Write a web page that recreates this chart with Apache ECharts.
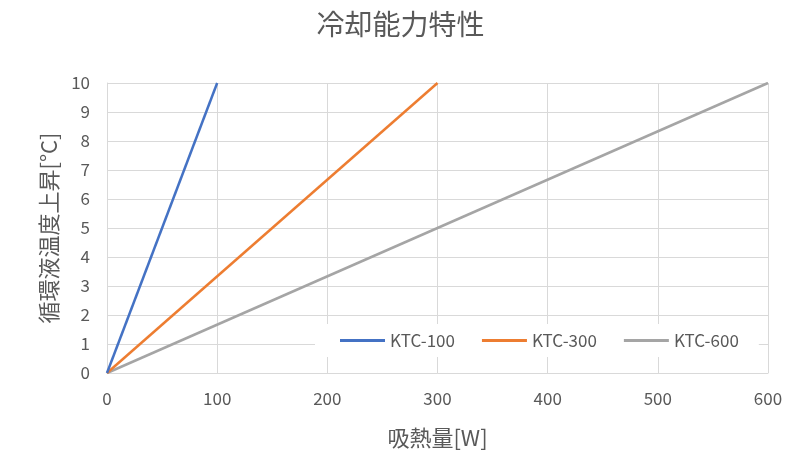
<!DOCTYPE html>
<html>
<head>
<meta charset="utf-8">
<script src="https://cdn.jsdelivr.net/npm/echarts@6/dist/echarts.min.js"></script>
<style>
  html, body { margin: 0; padding: 0; background: #fff; }
  #chart { width: 801px; height: 454px; }
</style>
</head>
<body>
<div id="chart"></div>
<script>
// Model names and their cooling characteristic (heat load W -> fluid temperature rise °C)
const models = ['KTC-100', 'KTC-300', 'KTC-600'];
const heatLoad100 = [0, 100];
const tempRise100 = [0, 10];
const heatLoad300 = [0, 300];
const tempRise300 = [0, 10];
const heatLoad600 = [0, 600];
const tempRise600 = [0, 10];
const colors = ['#4472C4', '#ED7D31', '#A5A5A5'];

const pairs = (xs, ys) => xs.map((x, i) => [x, ys[i]]);
const seriesData = [
  pairs(heatLoad100, tempRise100),
  pairs(heatLoad300, tempRise300),
  pairs(heatLoad600, tempRise600)
];

const font = '"Noto Sans CJK JP", "Noto Sans", sans-serif';
const gridColor = '#d9d9d9';
const textColor = '#595959';

const chart = echarts.init(document.getElementById('chart'));
chart.setOption({
  animation: false,
  title: {
    text: '冷却能力特性',
    left: 'center',
    top: 5,
    textStyle: { color: textColor, fontSize: 28, fontWeight: 'normal', fontFamily: font }
  },
  grid: { left: 107, right: 33, top: 83, bottom: 81, outerBoundsMode: 'none', containLabel: false },
  legend: {
    data: models,
    left: 315,
    top: 324,
    backgroundColor: '#ffffff',
    padding: [8, 20, 8, 25],
    itemWidth: 45,
    itemHeight: 3,
    itemGap: 27,
    icon: 'rect',
    textStyle: { color: textColor, fontSize: 17, fontFamily: font }
  },
  xAxis: {
    type: 'value',
    min: 0, max: 600, interval: 100,
    name: '吸熱量[W]',
    nameLocation: 'middle',
    nameGap: 54,
    nameTextStyle: { color: textColor, fontSize: 22, fontFamily: font },
    axisLine: { show: true, lineStyle: { color: gridColor, width: 1 } },
    axisTick: { show: false },
    axisLabel: { color: textColor, fontSize: 17, margin: 17, fontFamily: font },
    splitLine: { show: true, lineStyle: { color: gridColor, width: 1 } }
  },
  yAxis: {
    type: 'value',
    min: 0, max: 10, interval: 1,
    name: '循環液温度上昇[°C]',
    nameLocation: 'middle',
    nameGap: 47,
    nameRotate: 90,
    nameTextStyle: { color: textColor, fontSize: 22, fontFamily: font },
    axisLine: { show: true, lineStyle: { color: gridColor, width: 1 } },
    axisTick: { show: false },
    axisLabel: { color: textColor, fontSize: 17, margin: 17, fontFamily: font },
    splitLine: { show: true, lineStyle: { color: gridColor, width: 1 } }
  },
  series: models.map((name, i) => ({
    name: name,
    type: 'line',
    data: seriesData[i],
    symbol: 'none',
    z: 5 - i,
    lineStyle: { color: colors[i], width: 2.5 },
    itemStyle: { color: colors[i] }
  }))
});
</script>
</body>
</html>
